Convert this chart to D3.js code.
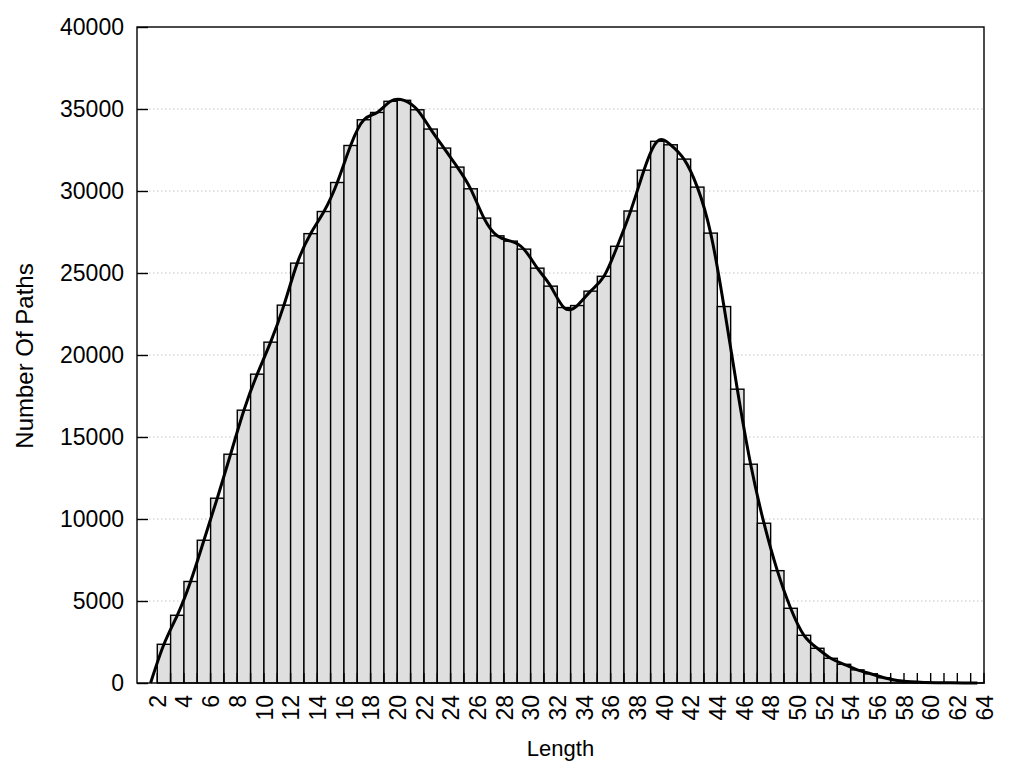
<!DOCTYPE html>
<html>
<head>
<meta charset="utf-8">
<script src="https://cdn.jsdelivr.net/npm/d3@7"></script>
<style>
    body { margin: 0; background: #fff; }
    text { font-family: "Liberation Sans", Arial, sans-serif; fill: #000; }
</style>
</head>
<body>
<svg id="chart" width="1024" height="768"></svg>
<script>
// path lengths (each bar spans [len-1, len] on the axis)
var lengths = [];
for (var i = 2; i <= 64; i++) lengths.push(i);

// number of paths for each length
var counts = [
    0, 2360, 4130, 6190, 8705, 11267, 13950, 16635, 18831, 20783,
    23040, 25602, 27400, 28750, 30518, 32775, 34343, 34790, 35470, 35530,
    34953, 33776, 32617, 31458, 30134, 28347, 27267, 26943, 26455, 25296,
    24198, 22894, 23016, 23894, 24800, 26630, 28780, 31270, 33030, 32818,
    31945, 30238, 27432, 22954, 17916, 13341, 9742, 6850, 4556, 2909,
    2117, 1506, 1140, 800, 560, 320, 150, 70, 35, 20,
    10, 5, 3
];

var yTicks = [0, 5000, 10000, 15000, 20000, 25000, 30000, 35000, 40000];
var xLabels = [];
for (var j = 2; j <= 64; j += 2) xLabels.push(j);

var data = lengths.map(function (d, k) { return {len: d, count: counts[k]}; });

// plot area (note: "top" is taken by window.top, hence the names)
var plotLeft = 137, plotRight = 984, plotTop = 27, plotBottom = 683;
var svg = d3.select("#chart");

var xScale = d3.scaleLinear().domain([0.48, 64]).range([plotLeft, plotRight]);
var yScale = d3.scaleLinear().domain([0, 40000]).range([plotBottom, plotTop]);

// grid lines
svg.append("g")
    .selectAll("line")
    .data(yTicks.slice(1, -1))
    .enter()
    .append("line")
    .attr("x1", plotLeft).attr("x2", plotRight)
    .attr("y1", function (d) { return yScale(d); })
    .attr("y2", function (d) { return yScale(d); })
    .style("stroke", "#c4c4c4")
    .style("stroke-width", 1)
    .style("stroke-dasharray", "1.5,2.5");

// bars
svg.append("g")
    .selectAll("rect")
    .data(data.filter(function (d) { return d.count > 0; }))
    .enter()
    .append("rect")
    .attr("x", function (d) { return xScale(d.len - 1); })
    .attr("y", function (d) { return yScale(d.count); })
    .attr("width", function (d) { return xScale(d.len) - xScale(d.len - 1); })
    .attr("height", function (d) { return plotBottom - yScale(d.count); })
    .style("fill", "#dfdfdf")
    .style("stroke", "#000")
    .style("stroke-width", 1.4);

// ticks on the x axis (pointing inward)
svg.append("g")
    .selectAll("line")
    .data(lengths)
    .enter()
    .append("line")
    .attr("x1", function (d) { return xScale(d); })
    .attr("x2", function (d) { return xScale(d); })
    .attr("y1", plotBottom).attr("y2", plotBottom - 10)
    .style("stroke", "#000")
    .style("stroke-width", 1.4);

// smoothed line through bar centres
var line = d3.line()
    .x(function (d) { return xScale(d.len - 0.5); })
    .y(function (d) { return yScale(d.count); })
    .curve(d3.curveNatural);

svg.append("path")
    .datum(data)
    .attr("d", line)
    .style("fill", "none")
    .style("stroke", "#000")
    .style("stroke-width", 3);

// frame
svg.append("rect")
    .attr("x", plotLeft).attr("y", plotTop)
    .attr("width", plotRight - plotLeft).attr("height", plotBottom - plotTop)
    .style("fill", "none")
    .style("stroke", "#000")
    .style("stroke-width", 1.4);

// y axis
var yAxis = d3.axisLeft(yScale)
    .tickValues(yTicks)
    .tickSize(-11)
    .tickPadding(13)
    .tickFormat(d3.format("d"));

var gy = svg.append("g")
    .attr("transform", "translate(" + plotLeft + ",0)")
    .call(yAxis);
gy.select(".domain").remove();
gy.selectAll("line").style("stroke-width", 1.4);
gy.selectAll("text")
    .style("font-size", "23px")
    .attr("font-family", null);

// x axis labels
var xAxis = d3.axisBottom(xScale)
    .tickValues(xLabels)
    .tickSize(0)
    .tickFormat(d3.format("d"));

var gx = svg.append("g")
    .attr("transform", "translate(0," + plotBottom + ")")
    .call(xAxis);
gx.select(".domain").remove();
gx.selectAll("text")
    .style("font-size", "23px")
    .attr("font-family", null)
    .style("text-anchor", "end")
    .attr("x", -12)
    .attr("y", 0)
    .attr("dy", "0.35em")
    .attr("transform", "rotate(-90)");

// axis titles
svg.append("text")
    .attr("x", (plotLeft + plotRight) / 2)
    .attr("y", 756)
    .style("text-anchor", "middle")
    .style("font-size", "22px")
    .text("Length");

svg.append("text")
    .attr("transform", "translate(33,356) rotate(-90)")
    .style("text-anchor", "middle")
    .style("font-size", "24px")
    .text("Number Of Paths");
</script>
</body>
</html>
